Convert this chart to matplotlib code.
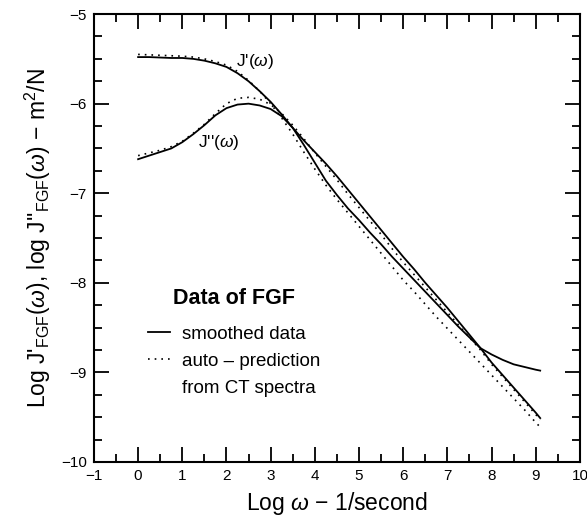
import matplotlib
matplotlib.use("Agg")
import matplotlib.pyplot as plt
from matplotlib.lines import Line2D
import numpy as np

# ---- data ----
log_w = [0.0, 0.25, 0.5, 0.75, 1.0, 1.25, 1.5, 1.75, 2.0, 2.25, 2.5, 2.75,
         3.0, 3.25, 3.5, 3.75, 4.0, 4.25, 4.5, 4.75, 5.0, 5.25, 5.5, 5.75,
         6.0, 6.25, 6.5, 6.75, 7.0, 7.25, 7.5, 7.75, 8.0, 8.25, 8.5, 8.75,
         9.0, 9.1]
jp_smooth = [-5.48, -5.48, -5.485, -5.49, -5.49, -5.50, -5.52, -5.55, -5.59, -5.66,
             -5.75, -5.86, -5.98, -6.12, -6.27, -6.46, -6.66, -6.86, -7.02, -7.17,
             -7.30, -7.44, -7.57, -7.71, -7.84, -7.97, -8.10, -8.23, -8.36, -8.49,
             -8.61, -8.73, -8.80, -8.86, -8.91, -8.94, -8.97, -8.98]
jpp_smooth = [-6.62, -6.58, -6.54, -6.50, -6.43, -6.34, -6.24, -6.13, -6.05, -6.01,
              -6.00, -6.02, -6.06, -6.14, -6.27, -6.41, -6.54, -6.67, -6.81, -6.96,
              -7.11, -7.26, -7.41, -7.56, -7.71, -7.85, -8.00, -8.14, -8.28, -8.43,
              -8.58, -8.73, -8.89, -9.03, -9.17, -9.31, -9.45, -9.51]
jp_pred = [-5.45, -5.455, -5.46, -5.465, -5.47, -5.48, -5.50, -5.53, -5.57, -5.64,
           -5.74, -5.86, -6.00, -6.16, -6.34, -6.54, -6.73, -6.91, -7.07, -7.22,
           -7.37, -7.52, -7.67, -7.82, -7.97, -8.10, -8.24, -8.38, -8.51, -8.64,
           -8.77, -8.90, -9.03, -9.16, -9.29, -9.42, -9.56, -9.61]
jpp_pred = [-6.58, -6.55, -6.52, -6.48, -6.42, -6.33, -6.23, -6.11, -6.00, -5.94,
            -5.93, -5.95, -6.01, -6.11, -6.24, -6.39, -6.55, -6.70, -6.85, -7.01,
            -7.16, -7.31, -7.46, -7.62, -7.77, -7.91, -8.05, -8.19, -8.33, -8.47,
            -8.61, -8.75, -8.91, -9.05, -9.19, -9.33, -9.47, -9.53]

x_ticks = list(range(-1, 11))
y_ticks = list(range(-10, -4))

plt.rcParams['font.family'] = ['Liberation Sans', 'DejaVu Sans']
plt.rcParams['mathtext.fontset'] = 'custom'
plt.rcParams['mathtext.rm'] = 'Liberation Sans'
plt.rcParams['mathtext.it'] = 'Liberation Sans:italic'
plt.rcParams['mathtext.bf'] = 'Liberation Sans:bold'

fig = plt.figure(figsize=(5.87, 5.16), dpi=100)
ax = fig.add_axes([0.160, 0.1047, 0.828, 0.868])

lw = 1.3
dot = (0, (1, 3))
ax.plot(log_w, jp_smooth, color='black', lw=lw, solid_joinstyle='round')
ax.plot(log_w, jpp_smooth, color='black', lw=lw, solid_joinstyle='round')
ax.plot(log_w, jp_pred, color='black', lw=1.2, linestyle=dot)
ax.plot(log_w, jpp_pred, color='black', lw=1.2, linestyle=dot)

ax.set_xlim(-1, 10)
ax.set_ylim(-10, -5)
ax.set_xticks(x_ticks)
ax.set_xticklabels([f"{t}".replace('-', '\u2212') for t in x_ticks])
ax.set_yticks(y_ticks)
ax.set_yticklabels([f"{t}".replace('-', '\u2212') for t in y_ticks])
ax.set_xticks(np.arange(-1, 10.01, 0.5), minor=True)
ax.set_yticks(np.arange(-10, -4.99, 0.25), minor=True)
ax.tick_params(which='both', direction='in', top=True, right=True, width=1.3,
               labelsize=11)
ax.tick_params(which='major', length=11)
ax.tick_params(which='minor', length=5.5)
ax.tick_params(axis='x', pad=5)
ax.tick_params(axis='y', pad=5)
for s in ax.spines.values():
    s.set_linewidth(1.5)

ax.set_xlabel(r"Log $\omega$ $-$ 1/second", fontsize=16.5, labelpad=5)
ax.set_ylabel(r"Log J'$_{\rm FGF}$($\omega$), log J''$_{\rm FGF}$($\omega$) $-$ m$^2$/N",
              fontsize=16.5, labelpad=6)

ax.text(2.64, -5.53, r"J'($\omega$)", fontsize=12.5, ha='center', va='center')
ax.text(1.83, -6.43, r"J''($\omega$)", fontsize=12.5, ha='center', va='center')

handles = [Line2D([], [], color='black', lw=lw),
           Line2D([], [], color='black', lw=1.2, linestyle=dot),
           Line2D([], [], color='none', lw=0)]
labels = ["smoothed data", "auto \u2013 prediction", "from CT spectra"]
leg = ax.legend(handles, labels, title="Data of FGF", frameon=False,
                loc='upper left', bbox_to_anchor=(0.111, 0.388),
                borderpad=0, borderaxespad=0, fontsize=13.5, handlelength=1.17,
                handletextpad=0.64, labelspacing=0.52)
leg.get_title().set_fontsize(15.5)
leg.get_title().set_fontweight('bold')
leg._legend_box.sep = 12

fig.savefig("out.png", dpi=100)
